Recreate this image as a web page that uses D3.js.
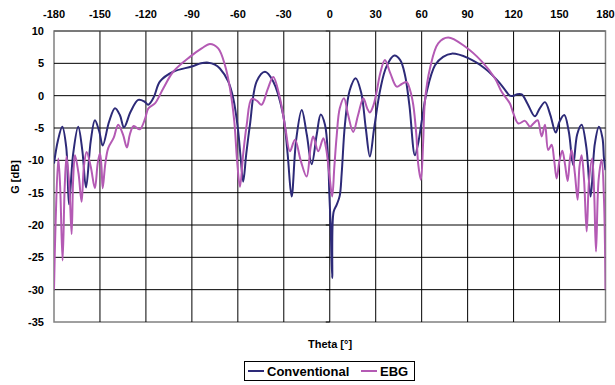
<!DOCTYPE html>
<html><head><meta charset="utf-8">
<script src="https://cdn.jsdelivr.net/npm/d3@7"></script>
<style>body{margin:0;background:#fff}svg{display:block}text{font-family:"Liberation Sans",Arial,sans-serif;font-weight:bold;fill:#000}</style>
</head><body><svg id="c" width="615" height="385"></svg>
<script>
const xTicks = [-180,-150,-120,-90,-60,-30,0,30,60,90,120,150,180];
const yTicks = [10,5,0,-5,-10,-15,-20,-25,-30,-35];
const seriesNames = ["Conventional","EBG"];
const convTheta = [-180,-177.5,-174.6,-172,-170.2,-167.5,-164.2,-161.5,-159.1,-156,-153.3,-150.5,-148.2,-144,-140.2,-137,-134.3,-130,-125,-121,-118.5,-115,-110.8,-102.2,-90.2,-84,-79.3,-75,-71.7,-66.3,-63,-60,-58,-56.5,-54.5,-52.1,-47.7,-42.3,-36.9,-30.4,-27.5,-24.9,-22,-18.3,-15,-11.8,-8.5,-5.9,-3.1,-1,-0.3,0.6,1.6,2.5,4.5,6.5,7.8,9.9,13,16.9,20.5,23.5,26.2,29,33,37,42.1,46,49.1,52,55.6,58,60,63.3,68.7,74,79.6,90.4,101.3,110,114.4,117.6,120,122,125.3,129,133.9,137,140.5,144,147.5,150,153.1,156,158.9,161.5,164.4,167.5,170.3,173,175.7,178,179,180];
const convG = [-10.5,-7.0,-4.8,-8,-16.8,-9,-4.8,-8.5,-14.2,-7,-3.8,-5.5,-7.7,-4,-1.95,-3,-4.9,-2.5,-0.66,-0.9,-1.4,-0.3,2.2,3.7,4.5,5,5.1,4.8,4.2,2.2,-0.4,-5,-10,-13.3,-9,-4.5,2.2,3.7,2.2,-3.0,-9,-15.6,-7,-2.2,-6,-10.6,-6,-2.9,-4.5,-10,-15,-20.2,-28.2,-18,-16.9,-15.5,-12,-4.5,0.8,2.7,0.5,-5,-9.4,-5,1,4.5,6.2,5.5,3.2,-1.5,-9.2,-7,-4.0,0.6,4.7,6.0,6.5,5.8,4.2,2.2,0.9,0.0,0,0.2,0.2,-1.2,-3.2,-2,-1.0,-3,-5.7,-4,-3.0,-5.5,-10.7,-6,-4.5,-8,-15.6,-7.5,-4.8,-6.5,-9.7,-11.5];
const ebgTheta = [-180,-179,-177.2,-176,-174.4,-173,-171.8,-170,-168.5,-167.5,-166.3,-164,-162,-160.5,-158.7,-156,-153.3,-151.5,-150,-149,-148.2,-146.5,-144.6,-141,-138.1,-135,-132.4,-130.5,-128,-124,-120.6,-118.5,-114.1,-108.7,-102.2,-91.3,-83.6,-78.2,-72.8,-68.4,-65.1,-62.3,-60.5,-58.6,-56.5,-54.2,-51,-47.5,-44.5,-40.5,-36.9,-32.5,-29,-26,-22.7,-19,-15.1,-12.5,-10.8,-7.5,-4.2,-2.5,0.1,1.6,3,4.5,6.5,9.3,12,15.3,18.5,21.9,24.5,26.2,28.5,30.6,33,36,39.5,43.7,47,50.2,52.5,54.5,56.5,57.8,59.5,61,62.1,65.4,70.8,77.3,88.3,99.2,107.8,112.2,117.6,119.8,123.1,127.4,130.7,133,135.7,138.3,140.5,142.6,144.8,146.5,148.1,150,151.8,153.5,155.3,156.7,157.9,160,161.8,163,164.4,166,167.7,169.3,171.3,172.6,173.8,175.5,177.5,179,180];
const ebgG = [-30,-20,-9.7,-14,-25.5,-14,-9.4,-14,-21.4,-13,-9.2,-12,-16.4,-11,-8.7,-11,-14.3,-10.5,-8.9,-11,-14.3,-10.5,-8.1,-6.5,-4.5,-6,-8.0,-6,-4.7,-5.2,-3.6,-2.0,-1.2,1.1,3.7,6.0,7.3,8.0,7.3,4.7,1.1,-4.0,-10,-14.1,-9,-4.5,-0.5,-0.8,-1.4,1,2.9,-0.4,-5,-8.6,-6.8,-10,-12.5,-8,-6.3,-8.6,-6.6,-8,-13,-15.6,-11,-6.3,-2,-0.4,-3,-5.6,-3,-0.4,-2,-2.6,-1.5,0.6,3.5,5.5,3.5,1.4,1.8,2.1,0.8,-1.4,-6,-10.7,-13.0,-7,-0.9,4.2,8.1,9.0,7.6,5.3,2.7,0.6,-1.2,-2.7,-4.3,-3.9,-4.8,-4.3,-3.8,-6.3,-4.5,-8.4,-7.6,-10,-12.8,-10,-8.5,-10.5,-13.2,-10,-8.4,-12,-16.1,-11,-9.2,-13,-21.0,-13,-9.7,-15,-24.1,-13,-9.9,-16,-30];
const colors = ["#2d2a78","#b45ab4"];

const svg = d3.select("#c");
const L=54, R=605.5, T=31, B=322;
const x = d3.scaleLinear().domain([-180,180]).range([L,R]);
const y = d3.scaleLinear().domain([-35,10]).range([B,T]);

// plot border
svg.append("rect").attr("x",L).attr("y",T).attr("width",R-L).attr("height",B-T)
  .attr("fill","#fff").attr("stroke","#808080").attr("stroke-width",1.5);
// gridlines
const g = svg.append("g");
g.selectAll("line.h").data(yTicks.filter(d=>d>-35&&d<10)).join("line")
  .attr("x1",L).attr("x2",R).attr("y1",d=>y(d)).attr("y2",d=>y(d)).attr("stroke","#000").attr("stroke-width",1);
g.selectAll("line.v").data(xTicks.filter(d=>d>-180&&d<180)).join("line")
  .attr("y1",T).attr("y2",B).attr("x1",d=>x(d)).attr("x2",d=>x(d)).attr("stroke","#000").attr("stroke-width",1);
// top line
svg.append("line").attr("x1",L).attr("x2",R).attr("y1",T).attr("y2",T).attr("stroke","#555");
// small ticks at the value axis (theta = 0)
g.selectAll("line.t").data(yTicks).join("line")
  .attr("x1",x(0)-4).attr("x2",x(0)).attr("y1",d=>y(d)).attr("y2",d=>y(d)).attr("stroke","#000");

// axis labels
svg.append("g").selectAll("text").data(xTicks).join("text")
  .attr("x",d=>x(d)).attr("y",18).attr("text-anchor","middle").attr("font-size",11).text(d=>d);
svg.append("g").selectAll("text").data(yTicks).join("text")
  .attr("x",44).attr("y",d=>y(d)+4).attr("text-anchor","end").attr("font-size",11).text(d=>d);
svg.append("text").attr("transform","translate(19,177) rotate(-90)").attr("text-anchor","middle").attr("font-size",11).text("G [dB]");
svg.append("text").attr("x",330).attr("y",348).attr("text-anchor","middle").attr("font-size",11).text("Theta [°]");

// series
const line = d3.line().x(d=>x(d[0])).y(d=>y(d[1])).curve(d3.curveCatmullRom.alpha(0.5));
const data = [d3.zip(convTheta,convG), d3.zip(ebgTheta,ebgG)];
svg.append("defs").append("clipPath").attr("id","clip").append("rect").attr("x",L).attr("y",T-2).attr("width",R-L).attr("height",B-T+4);
const lg = svg.append("g").attr("clip-path","url(#clip)");
lg.selectAll("path").data(data).join("path")
  .attr("d",line).attr("fill","none").attr("stroke",(d,i)=>colors[i]).attr("stroke-width",2).attr("stroke-linejoin","round");
// redraw navy below pink? keep order: conventional then EBG

// legend
const leg = svg.append("g");
leg.append("rect").attr("x",244.5).attr("y",361.5).attr("width",170).attr("height",19).attr("fill","#fff").attr("stroke","#000");
const items = [{x:248,tx:267},{x:361,tx:380}];
items.forEach((it,i)=>{
  leg.append("line").attr("x1",it.x).attr("x2",it.x+16).attr("y1",371).attr("y2",371).attr("stroke",colors[i]).attr("stroke-width",2);
  leg.append("text").attr("x",it.tx).attr("y",376).attr("font-size",13).text(seriesNames[i]);
});
</script></body></html>
